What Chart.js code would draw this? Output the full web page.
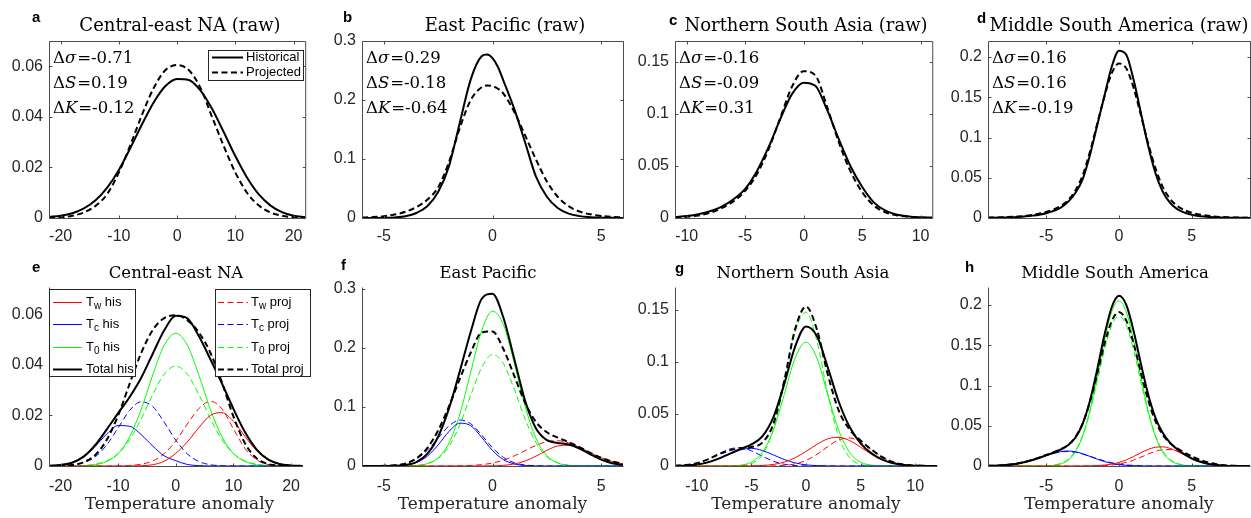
<!DOCTYPE html>
<html><head><meta charset="utf-8">
<script src="https://cdn.jsdelivr.net/npm/chart.js@4.4.0/dist/chart.umd.min.js"></script>
<style>
html,body{margin:0;padding:0;background:#fff;}
#wrap{position:relative;width:1251px;height:518px;overflow:hidden;background:#fff;}
#wrap canvas{position:absolute;}
</style></head><body><div id="wrap"></div>
<script>
// ================= DATA =================
// ---- Top row (raw distributions) ----
const xA = [-22,-20,-18,-16,-14,-12,-10,-8,-6,-4,-2,0,2,4,6,8,10,12,14,16,18,20,22];
const aHist = [0.0004,0.0009,0.0019,0.0038,0.0070,0.0120,0.0190,0.0278,0.0372,0.0458,0.0522,0.0550,0.0546,0.0505,0.0432,0.0340,0.0245,0.0160,0.0094,0.0050,0.0023,0.0009,0.0003];
const aProj = [0.0001,0.0003,0.0009,0.0022,0.0048,0.0095,0.0180,0.0290,0.0410,0.0515,0.0585,0.0605,0.0585,0.0515,0.0400,0.0285,0.0180,0.0100,0.0050,0.0022,0.0009,0.0003,0.0001];

const xB = [-6,-5.5,-5,-4.5,-4,-3.5,-3,-2.5,-2,-1.5,-1,-0.5,-0.25,0,0.25,0.5,1,1.5,2,2.5,3,3.5,4,4.5,5,5.5,6];
const bHist = [0.0000,0.0001,0.0003,0.0010,0.0030,0.0085,0.0200,0.0440,0.0880,0.1620,0.2350,0.2740,0.2770,0.2710,0.2560,0.2330,0.1850,0.1280,0.0700,0.0360,0.0170,0.0075,0.0032,0.0014,0.0006,0.0003,0.0001];
const bProj = [0.0008,0.0015,0.0030,0.0058,0.0105,0.0185,0.0310,0.0520,0.0950,0.1530,0.2000,0.2215,0.2245,0.2235,0.2190,0.2110,0.1800,0.1400,0.0990,0.0620,0.0360,0.0200,0.0110,0.0062,0.0035,0.0020,0.0012];

const xC = [-11,-10,-9,-8,-7,-6,-5,-4,-3,-2,-1,0,1,2,3,4,5,6,7,8,9,10,11];
const cHist = [0.0010,0.0020,0.0037,0.0065,0.0110,0.0180,0.0280,0.0450,0.0680,0.0950,0.1190,0.1300,0.1270,0.1040,0.0760,0.0500,0.0300,0.0150,0.0070,0.0032,0.0015,0.0007,0.0003];
const cProj = [0.0006,0.0012,0.0025,0.0050,0.0095,0.0160,0.0260,0.0420,0.0660,0.0960,0.1260,0.1410,0.1370,0.1070,0.0730,0.0450,0.0250,0.0120,0.0055,0.0025,0.0011,0.0005,0.0002];

const xD = [-9,-8,-7,-6,-5,-4,-3.5,-3,-2.5,-2,-1.5,-1,-0.5,0,0.5,1,1.5,2,2.5,3,3.5,4,5,6,7,8,9];
const dHist = [0.0003,0.0006,0.0013,0.0028,0.0060,0.0130,0.0200,0.0310,0.0480,0.0780,0.1150,0.1520,0.1880,0.2080,0.2030,0.1720,0.1310,0.0900,0.0560,0.0330,0.0190,0.0110,0.0040,0.0015,0.0006,0.0003,0.0001];
const dProj = [0.0005,0.0009,0.0018,0.0036,0.0075,0.0150,0.0220,0.0340,0.0530,0.0820,0.1170,0.1510,0.1800,0.1920,0.1860,0.1620,0.1280,0.0930,0.0620,0.0390,0.0240,0.0150,0.0065,0.0030,0.0013,0.0006,0.0003];

// ---- Bottom row (mixture components) ----
const xE = [-22,-20,-18,-16,-14,-12,-10,-8,-6,-4,-2,0,2,4,6,8,10,12,14,16,18,20,22];
const eTwHis   = [0,0,0,0,0,0,0,0.00002,0.0001,0.0005,0.0019,0.0050,0.0095,0.0152,0.0200,0.0211,0.0177,0.0117,0.0061,0.0025,0.0008,0.0002,0.00004];
const eTcHis   = [0.00008,0.00035,0.0013,0.0036,0.0077,0.0126,0.0160,0.0157,0.0124,0.0079,0.0040,0.0021,0.0006,0.00015,0.00003,0,0,0,0,0,0,0,0];
const eT0His   = [0,0.000005,0.000025,0.00012,0.0005,0.0018,0.0049,0.0116,0.0224,0.0360,0.0478,0.0525,0.0478,0.0360,0.0224,0.0116,0.0049,0.0018,0.0005,0.00012,0.000025,0.000005,0];
const eTwProj  = [0,0,0,0,0,0,0.00002,0.0002,0.0007,0.0020,0.0049,0.0099,0.0166,0.0227,0.0256,0.0226,0.0147,0.0070,0.0025,0.0006,0.0001,0.00002,0];
const eTcProj  = [0.00001,0.00008,0.00035,0.0013,0.0036,0.0083,0.0151,0.0220,0.0254,0.0235,0.0173,0.0102,0.0048,0.0018,0.0005,0.0001,0.00002,0,0,0,0,0,0];
const eT0Proj  = [0,0.00001,0.00005,0.0002,0.0007,0.0020,0.0049,0.0104,0.0187,0.0283,0.0363,0.0395,0.0363,0.0283,0.0187,0.0104,0.0049,0.0020,0.0007,0.0002,0.00005,0.00001,0];
const eTotHis  = [0.0001,0.0004,0.0013,0.0037,0.0082,0.0144,0.0209,0.0273,0.0349,0.0444,0.0537,0.0594,0.0584,0.0514,0.0422,0.0327,0.0226,0.0134,0.0066,0.0026,0.0008,0.0002,0.0000];
const eTotProj = [0.0000,0.0001,0.0004,0.0015,0.0043,0.0103,0.0200,0.0326,0.0447,0.0538,0.0585,0.0596,0.0577,0.0528,0.0448,0.0331,0.0196,0.0090,0.0031,0.0008,0.0002,0.0000,0.0000];

const xF = [-6,-5.5,-5,-4.5,-4,-3.5,-3,-2.5,-2,-1.5,-1,-0.5,0,0.5,1,1.5,2,2.5,3,3.5,4,4.5,5,5.5,6];
const fTwHis   = [0,0,0,0,0,0,0,0,0,0,0,0.0001,0.0003,0.0011,0.0035,0.0085,0.0167,0.0265,0.0340,0.0352,0.0294,0.0198,0.0108,0.0047,0.0017];
const fTcHis   = [0,0,0.00005,0.0003,0.0015,0.0058,0.0165,0.0357,0.0585,0.0726,0.0683,0.0487,0.0263,0.0108,0.0034,0.0008,0.0001,0,0,0,0,0,0,0,0];
const fT0His   = [0,0,0,0.00002,0.0002,0.0009,0.0039,0.0138,0.0391,0.0884,0.1593,0.2290,0.2624,0.2397,0.1745,0.1012,0.0468,0.0173,0.0051,0.0012,0.0002,0,0,0,0];
const fTwProj  = [0,0,0,0,0,0,0,0,0.0001,0.0003,0.0009,0.0023,0.0050,0.0099,0.0171,0.0261,0.0350,0.0413,0.0429,0.0392,0.0316,0.0224,0.0140,0.0077,0.0037];
const fTcProj  = [0.00001,0.00005,0.0003,0.0012,0.0042,0.0118,0.0264,0.0473,0.0678,0.0779,0.0716,0.0526,0.0310,0.0146,0.0055,0.0017,0.0004,0.0001,0,0,0,0,0,0,0];
const fT0Proj  = [0,0,0,0.00004,0.0002,0.0010,0.0040,0.0129,0.0333,0.0700,0.1198,0.1668,0.1888,0.1738,0.1302,0.0793,0.0393,0.0158,0.0052,0.0014,0.0003,0,0,0,0];
const fTotHis  = [0,0,0.0001,0.0003,0.0017,0.0067,0.0204,0.0495,0.0976,0.1610,0.2276,0.2830,0.2920,0.2516,0.1814,0.1105,0.0636,0.0438,0.0391,0.0364,0.0296,0.0198,0.0108,0.0047,0.0017];
const fTotProj = [0,0.0001,0.0003,0.0012,0.0044,0.0128,0.0304,0.0602,0.1012,0.1482,0.1923,0.2260,0.2280,0.1983,0.1528,0.1071,0.0747,0.0572,0.0481,0.0406,0.0319,0.0224,0.0140,0.0077,0.0037];

const xG = [-12,-11,-10,-9,-8,-7,-6,-5,-4,-3,-2,-1,0,1,2,3,4,5,6,7,8,9,10,11,12];
const gTwHis   = [0,0,0,0,0,0,0.00003,0.0001,0.0005,0.0015,0.0037,0.0079,0.0140,0.0208,0.0261,0.0275,0.0244,0.0181,0.0113,0.0060,0.0026,0.0010,0.0003,0.0001,0];
const gTcHis   = [0.0001,0.0005,0.0014,0.0035,0.0071,0.0116,0.0155,0.0169,0.0149,0.0107,0.0063,0.0030,0.0011,0.0004,0.0001,0,0,0,0,0,0,0,0,0,0];
const gT0His   = [0,0,0,0,0,0.0001,0.0008,0.0037,0.0130,0.0342,0.0684,0.1036,0.1190,0.1036,0.0684,0.0342,0.0130,0.0037,0.0008,0.0001,0,0,0,0,0];
const gTwProj  = [0,0,0,0,0,0,0,0,0,0.0001,0.0006,0.0020,0.0053,0.0111,0.0187,0.0251,0.0269,0.0229,0.0156,0.0085,0.0037,0.0013,0.0003,0.0001,0];
const gTcProj  = [0.0002,0.0009,0.0026,0.0063,0.0116,0.0163,0.0176,0.0146,0.0094,0.0046,0.0017,0.0005,0.0001,0,0,0,0,0,0,0,0,0,0,0,0];
const gT0Proj  = [0,0,0,0,0,0,0.0004,0.0023,0.0107,0.0345,0.0793,0.1287,0.1477,0.1200,0.0690,0.0281,0.0081,0.0016,0.0002,0,0,0,0,0,0];
const gTotHis  = [0.0001,0.0005,0.0014,0.0035,0.0071,0.0117,0.0163,0.0207,0.0284,0.0464,0.0784,0.1145,0.1341,0.1248,0.0946,0.0617,0.0374,0.0218,0.0121,0.0061,0.0026,0.0010,0.0003,0.0001,0];
const gTotProj = [0.0002,0.0009,0.0026,0.0063,0.0112,0.0150,0.0170,0.0182,0.0225,0.0400,0.0816,0.1312,0.1531,0.1311,0.0877,0.0532,0.0350,0.0245,0.0158,0.0085,0.0037,0.0013,0.0003,0.0001,0];

const xH = [-9,-8,-7,-6,-5,-4,-3.5,-3,-2.5,-2,-1.5,-1,-0.5,0,0.5,1,1.5,2,2.5,3,3.5,4,5,6,7,8,9];
const hTwHis   = [0,0,0,0,0,0,0,0,0.0001,0.0002,0.0005,0.0011,0.0023,0.0044,0.0076,0.0117,0.0164,0.0206,0.0233,0.0238,0.0219,0.0182,0.0091,0.0030,0.0007,0.0001,0];
const hTcHis   = [0.0002,0.0008,0.0028,0.0071,0.0131,0.0179,0.0186,0.0177,0.0153,0.0120,0.0085,0.0055,0.0032,0.0017,0.0008,0.0004,0.0001,0,0,0,0,0,0,0,0,0,0];
const hT0His   = [0,0,0,0,0.0002,0.0026,0.0071,0.0174,0.0370,0.0686,0.1108,0.1561,0.1918,0.2054,0.1918,0.1561,0.1108,0.0686,0.0370,0.0174,0.0071,0.0026,0.0002,0,0,0,0];
const hTwProj  = [0,0,0,0,0,0,0,0,0,0.0001,0.0002,0.0006,0.0012,0.0025,0.0045,0.0073,0.0109,0.0148,0.0182,0.0202,0.0204,0.0187,0.0117,0.0050,0.0014,0.0003,0];
const hTcProj  = [0.0002,0.0009,0.0030,0.0074,0.0133,0.0176,0.0180,0.0170,0.0149,0.0121,0.0091,0.0063,0.0041,0.0024,0.0013,0.0007,0.0003,0.0001,0,0,0,0,0,0,0,0,0];
const hT0Proj  = [0,0,0,0,0.0003,0.0032,0.0082,0.0188,0.0379,0.0672,0.1050,0.1444,0.1749,0.1864,0.1749,0.1444,0.1050,0.0672,0.0379,0.0188,0.0082,0.0032,0.0003,0,0,0,0];
const hTotHis  = [0.0002,0.0008,0.0028,0.0071,0.0133,0.0205,0.0257,0.0351,0.0524,0.0808,0.1198,0.1627,0.1973,0.2115,0.2002,0.1682,0.1273,0.0892,0.0603,0.0412,0.0290,0.0208,0.0093,0.0030,0.0007,0.0001,0];
const hTotProj = [0.0002,0.0009,0.0030,0.0074,0.0136,0.0208,0.0262,0.0358,0.0528,0.0794,0.1143,0.1513,0.1802,0.1913,0.1807,0.1524,0.1162,0.0821,0.0561,0.0390,0.0286,0.0219,0.0120,0.0050,0.0014,0.0003,0];

// ---- Tick values ----
const ticksX_a = [-20,-10,0,10,20];   const ticksY_a = [0,0.02,0.04,0.06];
const ticksX_b = [-5,0,5];            const ticksY_b = [0,0.1,0.2,0.3];
const ticksX_c = [-10,-5,0,5,10];     const ticksY_c = [0,0.05,0.1,0.15];
const ticksX_d = [-5,0,5];            const ticksY_d = [0,0.05,0.1,0.15,0.2];

// ---- Texts ----
const titlesTop = ['Central-east NA (raw)','East Pacific (raw)','Northern South Asia (raw)','Middle South America (raw)'];
const titlesBottom = ['Central-east NA','East Pacific','Northern South Asia','Middle South America'];
const panelLetters = ['a','b','c','d','e','f','g','h'];
const statSymbols = ['\u03C3','S','K'];
const statsA = ['-0.71','0.19','-0.12'];
const statsB = ['0.29','-0.18','-0.64'];
const statsC = ['-0.16','-0.09','0.31'];
const statsD = ['0.16','0.16','-0.19'];
const rawLegendLabels = ['Historical','Projected'];
const compLegendHis = [['T','w',' his'],['T','c',' his'],['T','0',' his'],['Total his','','']];
const compLegendProj = [['T','w',' proj'],['T','c',' proj'],['T','0',' proj'],['Total proj','','']];
const xAxisLabel = 'Temperature anomaly';

// ================= LAYOUT / STYLE =================
const AX = '#262626';
const AXLINE = '#4d4d4d';
const SANS = '"Liberation Sans", Arial, Helvetica, sans-serif';
const SERIF = '"DejaVu Serif", "Liberation Serif", serif';
const RED = '#ff0000', BLUE = '#0000ff', GREEN = '#00ff00', BLACK = '#000000';
const DASH_THICK = [6, 3.5], DASH_THIN = [6, 3.5];

const ROWS = [
  {T:41, B:218, canvasTop:0,   canvasH:248, xPad:8.5, titleBase:31,  titleSize:18},
  {T:289,B:466, canvasTop:248, canvasH:270, xPad:11,  titleBase:278, titleSize:16.5}
];

const PANELS = [
  {row:0,L:49, R:310, x:xA, ys:[aHist,aProj], xr:[-22,22], yr:[0,0.07], xt:ticksX_a, yt:ticksY_a, title:titlesTop[0], tx:180, letter:panelLetters[0], lx:32, ly:22, stats:statsA, legend:'raw'},
  {row:0,L:362,R:623, x:xB, ys:[bHist,bProj], xr:[-6,6],   yr:[0,0.3],  xt:ticksX_b, yt:ticksY_b, title:titlesTop[1], tx:505, letter:panelLetters[1], lx:343, ly:22, stats:statsB},
  {row:0,L:675,R:937, x:xC, ys:[cHist,cProj], xr:[-11,11], yr:[0,0.17], xt:ticksX_c, yt:ticksY_c, title:titlesTop[2], tx:806, letter:panelLetters[2], lx:669, ly:25, stats:statsC},
  {row:0,L:988,R:1250,x:xD, ys:[dHist,dProj], xr:[-9,9],   yr:[0,0.22], xt:ticksX_d, yt:ticksY_d, title:titlesTop[3], tx:1119, letter:panelLetters[3], lx:977, ly:23, stats:statsD},
  {row:1,L:49, R:310, x:xE, comp:[eTwHis,eTcHis,eT0His,eTwProj,eTcProj,eT0Proj,eTotHis,eTotProj], xr:[-22,22], yr:[0,0.07], xt:ticksX_a, yt:ticksY_a, title:titlesBottom[0], tx:176, letter:panelLetters[4], lx:32, ly:272, legend:'comp'},
  {row:1,L:362,R:623, x:xF, comp:[fTwHis,fTcHis,fT0His,fTwProj,fTcProj,fT0Proj,fTotHis,fTotProj], xr:[-6,6],   yr:[0,0.3],  xt:ticksX_b, yt:ticksY_b, title:titlesBottom[1], tx:488, letter:panelLetters[5], lx:341, ly:270},
  {row:1,L:675,R:937, x:xG, comp:[gTwHis,gTcHis,gT0His,gTwProj,gTcProj,gT0Proj,gTotHis,gTotProj], xr:[-12,12], yr:[0,0.17], xt:ticksX_c, yt:ticksY_c, title:titlesBottom[2], tx:803, letter:panelLetters[6], lx:675, ly:273},
  {row:1,L:988,R:1250,x:xH, comp:[hTwHis,hTcHis,hT0His,hTwProj,hTcProj,hT0Proj,hTotHis,hTotProj], xr:[-9,9],   yr:[0,0.22], xt:ticksX_d, yt:ticksY_d, title:titlesBottom[3], tx:1115, letter:panelLetters[7], lx:965, ly:272}
];

const COMP_STYLE = [
  {c:RED,w:1,d:[]},{c:BLUE,w:1,d:[]},{c:GREEN,w:1,d:[]},
  {c:RED,w:1,d:DASH_THIN},{c:BLUE,w:1,d:DASH_THIN},{c:GREEN,w:1,d:DASH_THIN},
  {c:BLACK,w:2,d:[]},{c:BLACK,w:2,d:DASH_THICK}
];

function pts(xs, ys){ return xs.map((x,i)=>({x:x, y:ys[i]})); }

function hline(ctx,x1,x2,y,color,w,dash){
  ctx.save(); ctx.strokeStyle=color; ctx.lineWidth=w; ctx.setLineDash(dash||[]);
  ctx.beginPath(); ctx.moveTo(x1,y); ctx.lineTo(x2,y); ctx.stroke(); ctx.restore();
}

function drawSubLabel(ctx, x, y, parts){
  ctx.fillStyle='#000'; ctx.textBaseline='middle'; ctx.textAlign='left';
  ctx.font='13px '+SANS;
  ctx.fillText(parts[0], x, y);
  let cx = x + ctx.measureText(parts[0]).width;
  if (parts[1]) {
    ctx.font='10px '+SANS;
    ctx.fillText(parts[1], cx, y+4);
    cx += ctx.measureText(parts[1]).width;
  }
  if (parts[2]) { ctx.font='13px '+SANS; ctx.fillText(parts[2], cx, y); }
}

function decor(p, ox, oy){
  const row = ROWS[p.row];
  return {
    id:'decor'+p.letter,
    afterDatasetsDraw(chart){
      const ctx = chart.ctx, ca = chart.chartArea;
      const xs = chart.scales.x, ys = chart.scales.y;
      const l = ca.left+0.5, r = ca.right+0.5, t = ca.top+0.5, b = ca.bottom+0.5;
      ctx.save();
      ctx.strokeStyle = AXLINE; ctx.lineWidth = 1; ctx.setLineDash([]);
      ctx.beginPath();
      if (p.row===0){
        ctx.rect(l, t, r-l, b-t);
      } else {
        ctx.moveTo(l, t-2); ctx.lineTo(l, b); ctx.lineTo(r, b);
      }
      ctx.stroke();
      // inward ticks
      ctx.beginPath();
      p.xt.forEach(v=>{
        const px = Math.round(xs.getPixelForValue(v))+0.5;
        ctx.moveTo(px, b); ctx.lineTo(px, b-3);
        if (p.row===0){ ctx.moveTo(px, t); ctx.lineTo(px, t+3); }
      });
      p.yt.forEach(v=>{
        const py = Math.round(ys.getPixelForValue(v))+0.5;
        ctx.moveTo(l, py); ctx.lineTo(l+3, py);
        if (p.row===0){ ctx.moveTo(r, py); ctx.lineTo(r-3, py); }
      });
      ctx.stroke();

      // title
      ctx.fillStyle = '#000'; ctx.textAlign='center'; ctx.textBaseline='alphabetic';
      ctx.font = row.titleSize+'px '+SERIF;
      ctx.fillText(p.title, p.tx-ox, row.titleBase-oy);
      // panel letter
      ctx.textAlign='left'; ctx.font='bold 15px '+SANS;
      ctx.fillText(p.letter, p.lx-ox, p.ly-oy);
      // x-axis label on bottom row
      if (p.row===1){
        ctx.textAlign='center'; ctx.fillStyle=AX; ctx.font='17px '+SERIF;
        ctx.fillText(xAxisLabel, (p.L+p.R)/2-ox, 509-oy);
      }
      // stats text
      if (p.stats){
        const x0 = p.L+4-ox;
        const bases = [22,47,72];
        p.stats.forEach((val,i)=>{
          const y = row.T+bases[i]-oy;
          ctx.fillStyle='#000'; ctx.textAlign='left';
          ctx.font='16.5px '+SERIF;
          ctx.fillText('\u0394', x0, y);
          let cx = x0 + ctx.measureText('\u0394').width;
          ctx.font='italic 16.5px '+SERIF;
          ctx.fillText(statSymbols[i], cx, y);
          cx += ctx.measureText(statSymbols[i]).width + 1;
          ctx.font='16.5px '+SERIF;
          ctx.fillText('='+val, cx, y);
        });
      }
      // legends
      if (p.legend==='raw'){
        const bx = p.R-102-ox, by = row.T+9-oy, bw = 95, bh = 30;
        ctx.fillStyle='#fff'; ctx.fillRect(bx, by, bw, bh);
        ctx.strokeStyle=AX; ctx.lineWidth=1; ctx.strokeRect(bx+0.5, by+0.5, bw, bh);
        hline(ctx, bx+4, bx+35, by+7.5, BLACK, 2, []);
        hline(ctx, bx+4, bx+35, by+22.5, BLACK, 2, DASH_THICK);
        ctx.fillStyle='#000'; ctx.font='13px '+SANS; ctx.textAlign='left'; ctx.textBaseline='middle';
        ctx.fillText(rawLegendLabels[0], bx+38, by+7.5);
        ctx.fillText(rawLegendLabels[1], bx+38, by+22.5);
      }
      if (p.legend==='comp'){
        const ys0 = [13,35,58,80];
        const lbx = p.L-ox, lby = row.T-oy, lbw = 86, lbh = 87;
        ctx.fillStyle='#fff'; ctx.fillRect(lbx, lby, lbw, lbh);
        ctx.strokeStyle=AX; ctx.lineWidth=1; ctx.strokeRect(lbx+0.5, lby+0.5, lbw, lbh);
        const hisStyles = [COMP_STYLE[0],COMP_STYLE[1],COMP_STYLE[2],COMP_STYLE[6]];
        hisStyles.forEach((s,i)=>{
          const y = lby + ys0[i] + 0.5;
          hline(ctx, lbx+4, lbx+33, y, s.c, s.w, s.d);
          drawSubLabel(ctx, lbx+37, y, compLegendHis[i]);
        });
        const rbx = p.R-95-ox, rby = row.T-oy, rbw = 95, rbh = 87;
        ctx.fillStyle='#fff'; ctx.fillRect(rbx, rby, rbw, rbh);
        ctx.strokeStyle=AX; ctx.lineWidth=1; ctx.strokeRect(rbx+0.5, rby+0.5, rbw, rbh);
        const projStyles = [COMP_STYLE[3],COMP_STYLE[4],COMP_STYLE[5],COMP_STYLE[7]];
        projStyles.forEach((s,i)=>{
          const y = rby + ys0[i] + 0.5;
          hline(ctx, rbx+3, rbx+33, y, s.c, s.w, s.d);
          drawSubLabel(ctx, rbx+36, y, compLegendProj[i]);
        });
      }
      ctx.restore();
    }
  };
}

const wrap = document.getElementById('wrap');
PANELS.forEach(p=>{
  const row = ROWS[p.row];
  const cw = p.R - p.L + 50, ch = row.canvasH;
  const cl = p.L - 49, ct = row.canvasTop;
  const plotH = row.B - row.T, padTop = row.T - ct;
  const cv = document.createElement('canvas');
  cv.width = cw; cv.height = ch;
  cv.style.left = cl+'px'; cv.style.top = ct+'px';
  cv.style.width = cw+'px'; cv.style.height = ch+'px';
  wrap.appendChild(cv);

  let datasets;
  if (p.row===0){
    datasets = [
      {data:pts(p.x,p.ys[0]), borderColor:BLACK, borderWidth:2, borderDash:[], order:1},
      {data:pts(p.x,p.ys[1]), borderColor:BLACK, borderWidth:2, borderDash:DASH_THICK, order:0}
    ];
  } else {
    datasets = p.comp.map((ys,i)=>({
      data:pts(p.x,ys), borderColor:COMP_STYLE[i].c, borderWidth:COMP_STYLE[i].w,
      borderDash:COMP_STYLE[i].d, order: i>=6 ? 0 : 1
    }));
  }
  datasets.forEach(d=>{ d.pointRadius=0; d.fill=false; d.cubicInterpolationMode='monotone'; });

  new Chart(cv, {
    type:'line',
    data:{datasets},
    options:{
      responsive:false, animation:false, devicePixelRatio:1, events:[],
      layout:{padding:{left:0,right:1,top:padTop,bottom:0}},
      plugins:{legend:{display:false}, tooltip:{enabled:false}, title:{display:false}},
      scales:{
        x:{type:'linear', position:'bottom', min:p.xr[0], max:p.xr[1],
           afterBuildTicks:s=>{ s.ticks = p.xt.map(v=>({value:v})); },
           afterFit:s=>{ s.height = ch - padTop - plotH; },
           grid:{display:false, drawTicks:false}, border:{display:false},
           ticks:{autoSkip:false, maxRotation:0, minRotation:0, padding:row.xPad, color:AX,
                  font:{family:SANS, size:16}, callback:v=>String(v)}},
        y:{type:'linear', position:'left', min:p.yr[0], max:p.yr[1],
           afterBuildTicks:s=>{ s.ticks = p.yt.map(v=>({value:v})); },
           afterFit:s=>{ s.width = 49; },
           grid:{display:false, drawTicks:false}, border:{display:false},
           ticks:{autoSkip:false, padding:6, color:AX,
                  font:{family:SANS, size:16}, callback:v=>String(v)}}
      }
    },
    plugins:[decor(p, cl, ct)]
  });
});
</script></body></html>
